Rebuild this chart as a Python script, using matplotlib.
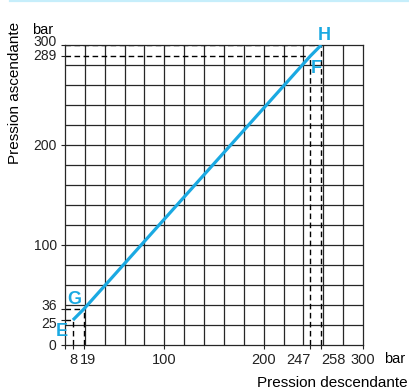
import numpy as np
import matplotlib.pyplot as plt
from matplotlib.lines import Line2D
from matplotlib.transforms import ScaledTranslation

plt.rcParams['font.family'] = ['Liberation Sans', 'DejaVu Sans']

# points caractéristiques E, G, F, H (pression descendante, pression ascendante)
noms = ['E', 'G', 'F', 'H']
p_desc = [8, 19, 247, 258]
p_asc = [25, 36, 289, 300]

xticks = [0, 8, 19, 100, 200, 247, 258, 300]
xlabels = ['', '8', '19', '100', '200', '247', '258', '300']
yticks = [0, 25, 36, 100, 200, 289, 300]

bleu = '#1aa9e2'
gris = '#262626'

fig = plt.figure(figsize=(4.09, 3.89), dpi=100)
ax = fig.add_axes([65 / 409, 44 / 389, 298 / 409, 300 / 389])
ax.set_xlim(0, 300)
ax.set_ylim(0, 300)

# quadrillage tous les 20 bar
for v in np.arange(20, 300, 20):
    ax.axvline(v, color=gris, lw=0.9, zorder=1)
    ax.axhline(v, color=gris, lw=0.9, zorder=1)
for s in ax.spines.values():
    s.set_color(gris)
    s.set_linewidth(0.9)

# pointillés de lecture
for x, y in zip(p_desc, p_asc):
    ax.plot([0, x], [y, y], color='black', lw=1, ls=(0, (4, 2.5)), zorder=2)
    ax.plot([x, x], [0, y], color='black', lw=1, ls=(0, (4, 2.5)), zorder=2)

ax.plot(p_desc, p_asc, color=bleu, lw=2.3, solid_capstyle='butt', zorder=3)

decal = {'E': (-11, -11), 'G': (-9.5, 10), 'F': (6, -12.5), 'H': (3, 9.5)}
for n, x, y in zip(noms, p_desc, p_asc):
    dx, dy = decal[n]
    ax.text(x + dx, y + dy, n, color=bleu, fontsize=13, fontweight='bold',
            ha='center', va='center', zorder=4)

ax.set_xticks(xticks, xlabels)
ax.set_yticks(yticks)
ax.tick_params(direction='out', length=3, width=0.8, pad=3, colors='#222222')
ax.tick_params(axis='x', labelsize=10.5)
ax.tick_params(axis='y', labelsize=10)

# étiquettes serrées : on les écarte un peu
for lab, t in zip(ax.get_xticklabels(), xticks):
    if t == 19:
        lab.set_transform(lab.get_transform() + ScaledTranslation(4 / 100, 0, fig.dpi_scale_trans))
    elif t == 247:
        lab.set_horizontalalignment('right')
    elif t == 258:
        lab.set_horizontalalignment('left')
dy_lab = {300: 4, 289: 2, 36: 4, 25: -2}
for lab, t in zip(ax.get_yticklabels(), yticks):
    if t in dy_lab:
        lab.set_transform(lab.get_transform() + ScaledTranslation(0, dy_lab[t] / 100, fig.dpi_scale_trans))

fig.text(43 / 409, 1 - 34 / 389, 'bar', fontsize=10.5, ha='center', va='baseline')
fig.text(395 / 409, 1 - 359 / 389, 'bar', fontsize=10.5, ha='center', va='center')
fig.text(408 / 409, 1 - 387 / 389, 'Pression descendante', fontsize=11,
         ha='right', va='baseline')
fig.text(15 / 409, 1 - 93 / 389, 'Pression ascendante', fontsize=11,
         rotation=90, ha='center', va='center')

fig.add_artist(Line2D([10 / 409, 1], [1 - 1 / 389, 1 - 1 / 389],
                      color='#c6eefb', lw=1.6))

fig.savefig('out.png')
